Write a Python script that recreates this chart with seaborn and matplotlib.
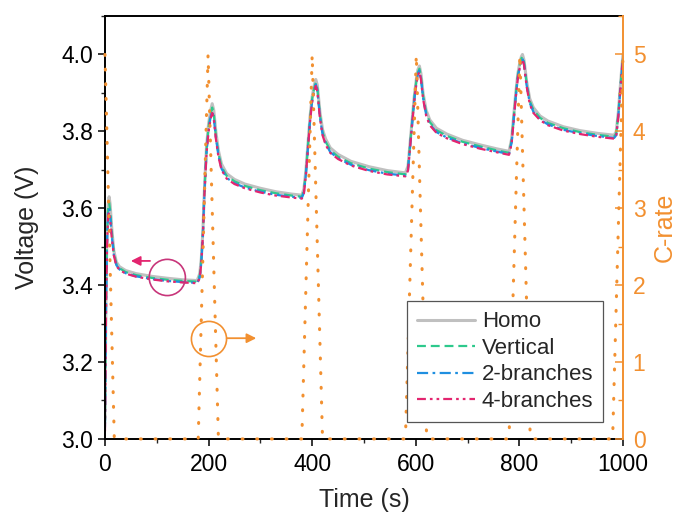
import numpy as np
import pandas as pd
import seaborn as sns
import matplotlib.pyplot as plt
from matplotlib.ticker import MultipleLocator, FormatStrFormatter

# voltage traces, shared time axis ###########################################
t_v = [0, 2, 4, 6, 8, 10, 13, 17, 22, 28, 40, 60, 90, 120, 150, 178,
       183, 186, 189, 192, 196, 200, 204, 207, 210, 214, 219, 225, 235, 250, 270, 300, 330, 360, 380,
       384, 388, 392, 396, 400, 404, 407, 410, 415, 420, 426, 435, 450, 475, 510, 545, 580,
       585, 589, 593, 597, 601, 604, 607, 610, 614, 620, 627, 640, 660, 690, 724, 755, 780,
       785, 789, 793, 797, 801, 804, 806, 809, 814, 820, 827, 840, 855, 885, 917, 950, 983,
       987, 991, 995, 998, 1000]

v_homo = [3.05, 3.38, 3.55, 3.61, 3.63, 3.61, 3.55, 3.49, 3.46, 3.448, 3.438, 3.43, 3.423, 3.418, 3.414, 3.412,
          3.43, 3.47, 3.54, 3.65, 3.76, 3.82, 3.855, 3.872, 3.855, 3.80, 3.75, 3.715, 3.69, 3.675, 3.663, 3.652, 3.643, 3.637, 3.634,
          3.65, 3.70, 3.77, 3.84, 3.89, 3.92, 3.935, 3.92, 3.85, 3.805, 3.78, 3.757, 3.74, 3.722, 3.708, 3.698, 3.692,
          3.71, 3.77, 3.83, 3.89, 3.935, 3.96, 3.97, 3.95, 3.90, 3.855, 3.83, 3.808, 3.793, 3.777, 3.765, 3.755, 3.748,
          3.78, 3.84, 3.90, 3.95, 3.98, 3.995, 4.0, 3.985, 3.93, 3.885, 3.862, 3.84, 3.827, 3.812, 3.802, 3.795, 3.79,
          3.80, 3.85, 3.92, 3.97, 4.0]

v_vert = [3.04, 3.36, 3.53, 3.60, 3.615, 3.595, 3.54, 3.485, 3.455, 3.444, 3.434, 3.426, 3.419, 3.414, 3.411, 3.409,
          3.425, 3.465, 3.535, 3.645, 3.75, 3.81, 3.845, 3.862, 3.845, 3.79, 3.742, 3.708, 3.684, 3.67, 3.658, 3.647, 3.639, 3.633, 3.63,
          3.645, 3.695, 3.765, 3.835, 3.885, 3.913, 3.927, 3.912, 3.842, 3.798, 3.773, 3.751, 3.734, 3.717, 3.703, 3.694, 3.688,
          3.705, 3.765, 3.825, 3.885, 3.93, 3.953, 3.963, 3.943, 3.893, 3.849, 3.824, 3.803, 3.788, 3.773, 3.761, 3.751, 3.744,
          3.775, 3.835, 3.895, 3.945, 3.975, 3.99, 3.995, 3.98, 3.925, 3.879, 3.856, 3.835, 3.822, 3.808, 3.798, 3.791, 3.786,
          3.795, 3.845, 3.915, 3.965, 3.995]

v_2br = [3.03, 3.34, 3.51, 3.59, 3.60, 3.58, 3.53, 3.48, 3.452, 3.441, 3.431, 3.423, 3.416, 3.411, 3.408, 3.406,
         3.42, 3.46, 3.53, 3.64, 3.745, 3.805, 3.838, 3.853, 3.838, 3.785, 3.737, 3.703, 3.679, 3.665, 3.654, 3.643, 3.635, 3.63, 3.627,
         3.64, 3.69, 3.76, 3.83, 3.88, 3.908, 3.922, 3.907, 3.837, 3.793, 3.768, 3.746, 3.73, 3.713, 3.699, 3.69, 3.685,
         3.70, 3.76, 3.82, 3.88, 3.925, 3.948, 3.958, 3.938, 3.888, 3.844, 3.819, 3.798, 3.784, 3.769, 3.757, 3.748, 3.741,
         3.77, 3.83, 3.89, 3.94, 3.97, 3.985, 3.99, 3.975, 3.92, 3.874, 3.851, 3.831, 3.818, 3.804, 3.795, 3.788, 3.783,
         3.79, 3.84, 3.91, 3.96, 3.99]

v_4br = [3.02, 3.33, 3.50, 3.58, 3.59, 3.57, 3.525, 3.478, 3.45, 3.44, 3.43, 3.422, 3.415, 3.41, 3.407, 3.405,
         3.418, 3.458, 3.527, 3.637, 3.742, 3.80, 3.833, 3.848, 3.833, 3.782, 3.734, 3.70, 3.677, 3.663, 3.652, 3.641, 3.633, 3.628, 3.625,
         3.638, 3.688, 3.758, 3.828, 3.877, 3.905, 3.918, 3.904, 3.834, 3.79, 3.765, 3.744, 3.728, 3.711, 3.697, 3.688, 3.683,
         3.698, 3.758, 3.818, 3.878, 3.922, 3.945, 3.955, 3.935, 3.885, 3.841, 3.816, 3.796, 3.782, 3.767, 3.755, 3.746, 3.739,
         3.768, 3.828, 3.888, 3.938, 3.968, 3.982, 3.987, 3.972, 3.917, 3.871, 3.848, 3.829, 3.816, 3.802, 3.793, 3.786, 3.781,
         3.788, 3.838, 3.908, 3.958, 3.988]

# C-rate pulse profile
t_c = [0, 18, 180, 199, 219, 380, 400, 420, 580, 601, 621, 780, 801, 821, 980, 1000]
c_rate = [5, 0, 0, 5, 0, 0, 5, 0, 0, 5, 0, 0, 5, 0, 0, 5]

names = ['Homo', 'Vertical', '2-branches', '4-branches']
colors = {'Homo': '#C0C0C0', 'Vertical': '#2DC98C', '2-branches': '#1F8FE0', '4-branches': '#E3256F'}
dashes = {'Homo': '', 'Vertical': (4, 2.2), '2-branches': (5, 2, 1.2, 2), '4-branches': (4, 1.8, 1.2, 1.8, 1.2, 1.8)}
widths = {'Homo': 2.2, 'Vertical': 1.6, '2-branches': 1.6, '4-branches': 1.6}
orange = '#F29030'

df = pd.DataFrame({'t': t_v * 4,
                   'V': v_homo + v_vert + v_2br + v_4br,
                   'case': np.repeat(names, len(t_v))})
df_c = pd.DataFrame({'t': t_c, 'C': c_rate})

sns.set_style('ticks')
plt.rcParams['font.family'] = ['Liberation Sans', 'DejaVu Sans']
plt.rcParams['font.size'] = 16

fig = plt.figure(figsize=(6.79, 5.17), dpi=100)
ax = fig.add_axes([0.1546, 0.151, 0.7629, 0.818])
ax2 = ax.twinx()

for name in names:
    sub = df[df['case'] == name]
    sns.lineplot(data=sub, x='t', y='V', ax=ax, color=colors[name], linewidth=widths[name],
                 dashes=False, label=name, legend=False)
    ln = ax.get_lines()[-1]
    if dashes[name]:
        ln.set_dashes(dashes[name])

sns.lineplot(data=df_c, x='t', y='C', ax=ax2, color=orange, linewidth=2.2, legend=False)
c_line = ax2.get_lines()[-1]
c_line.set_linestyle((0, (0.3, 4.5)))
c_line.set_dash_capstyle('round')
c_line.set_clip_on(False)

ax.set_xlim(0, 1000)
ax.set_ylim(3.0, 4.1)
ax2.set_ylim(0, 5.5)

ax.xaxis.set_major_locator(MultipleLocator(200))
ax.xaxis.set_minor_locator(MultipleLocator(100))
ax.yaxis.set_major_locator(MultipleLocator(0.2))
ax.yaxis.set_minor_locator(MultipleLocator(0.1))
ax.yaxis.set_major_formatter(FormatStrFormatter('%.1f'))
ax2.yaxis.set_major_locator(MultipleLocator(1))
ax2.yaxis.set_minor_locator(MultipleLocator(0.5))

ax.tick_params(axis='both', which='major', direction='out', length=5, width=1.1, labelsize=16.5, colors='black')
ax.tick_params(axis='x', which='major', pad=5)
ax.tick_params(axis='both', which='minor', direction='out', length=3, width=1.0)
ax2.tick_params(axis='y', which='major', direction='in', length=6, width=1.1, colors=orange,
                labelsize=16.5, pad=7)
ax2.tick_params(axis='y', which='minor', direction='in', length=3.5, width=1.0, colors=orange)

for s in ['left', 'bottom', 'top']:
    ax.spines[s].set_visible(True)
    ax.spines[s].set_linewidth(1.4)
    ax.spines[s].set_color('black')
ax.spines['right'].set_visible(False)
for s in ['left', 'bottom', 'top']:
    ax2.spines[s].set_visible(False)
ax2.spines['right'].set_visible(True)
ax2.spines['right'].set_color(orange)
ax2.spines['right'].set_linewidth(1.4)

ax.set_xlabel('Time (s)', fontsize=18, labelpad=9)
ax.set_ylabel('Voltage (V)', fontsize=18, labelpad=16)
ax2.set_ylabel('C-rate', fontsize=18, color=orange, labelpad=5)

# axis hints: circles + arrows
ax.scatter([120.3], [3.42], s=680, facecolors='none', edgecolors='#C8357A', linewidths=1.2, zorder=5)
ax.annotate('', xy=(50, 3.463), xytext=(87, 3.463),
            arrowprops=dict(arrowstyle='-|>', color='#E3256F', lw=1.3, mutation_scale=14, shrinkA=0, shrinkB=0))
ax.scatter([200.8], [3.26], s=640, facecolors='none', edgecolors=orange, linewidths=1.2, zorder=5)
ax.annotate('', xy=(292, 3.262), xytext=(235, 3.262),
            arrowprops=dict(arrowstyle='-|>', color=orange, lw=1.3, mutation_scale=14, shrinkA=0, shrinkB=0))

handles = ax.get_lines()[:4]
leg = ax2.legend(handles, names, loc='lower right', bbox_to_anchor=(0.962, 0.04), fontsize=16,
                 frameon=True, fancybox=False, edgecolor='#555555', framealpha=1,
                 handlelength=2.6, handletextpad=0.3, labelspacing=0.25, borderpad=0.45,
                 borderaxespad=0)
leg.get_frame().set_linewidth(0.9)

fig.savefig('out.png', dpi=100)
